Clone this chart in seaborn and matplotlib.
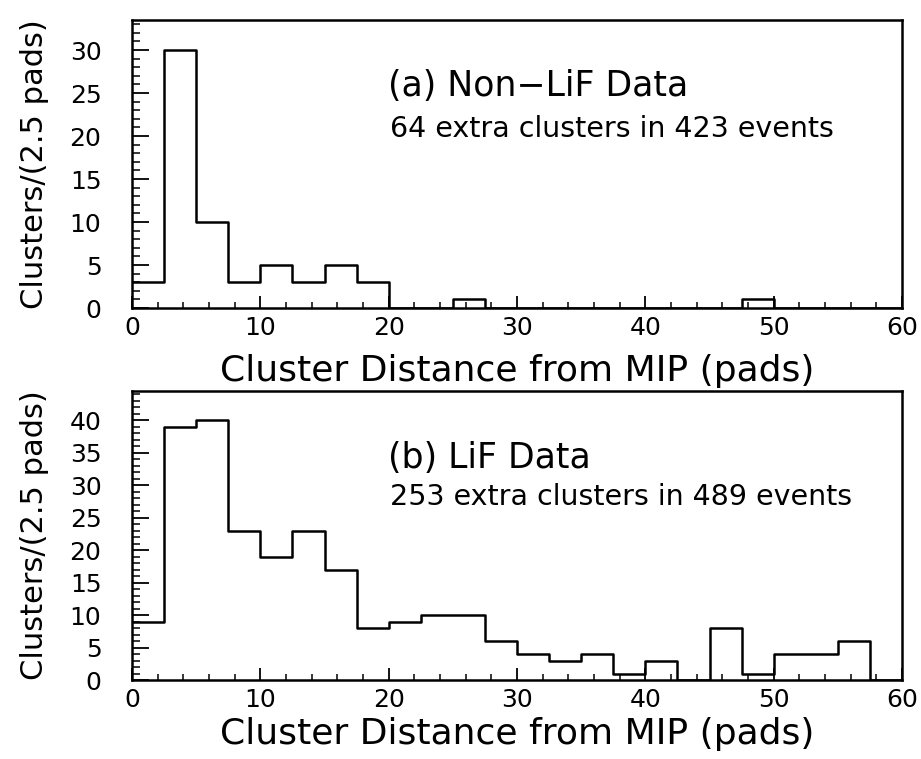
import numpy as np
import pandas as pd
import matplotlib
matplotlib.use("Agg")
import matplotlib.pyplot as plt
import seaborn as sns
from matplotlib.ticker import MultipleLocator

sns.set_theme(style="white")
plt.rcParams['font.family'] = ['DejaVu Sans']

bin_edges = [i * 2.5 for i in range(25)]
bin_centers = [e + 1.25 for e in bin_edges[:-1]]
counts_nonlif = [3, 30, 10, 3, 5, 3, 5, 3, 0, 0, 1, 0, 0, 0, 0, 0, 0, 0, 0, 1, 0, 0, 0, 0]
counts_lif = [9, 39, 40, 23, 19, 23, 17, 8, 9, 10, 10, 6, 4, 3, 4, 1, 3, 0, 8, 1, 4, 4, 6, 0]

title_a = "(a) Non\u2212LiF Data"
sub_a = "64 extra clusters in 423 events"
title_b = "(b) LiF Data"
sub_b = "253 extra clusters in 489 events"
xlabel = "Cluster Distance from MIP (pads)"
ylabel = "Clusters/(2.5 pads)"

fig = plt.figure(figsize=(9.21, 7.59), dpi=100)
W, H = 921, 759
def axrect(l, t, r, b):
    return [l / W, 1 - b / H, (r - l) / W, (b - t) / H]

ax1 = fig.add_axes(axrect(132, 20, 902, 308))
ax2 = fig.add_axes(axrect(132, 391, 902, 680))

panels = [
    (ax1, counts_nonlif, 33.5, title_a, sub_a, 0.771, 0.622, -0.158),
    (ax2, counts_lif, 44.5, title_b, sub_b, 0.768, 0.633, -0.128),
]

for ax, counts, ymax, title, sub, ty, sy, xly in panels:
    df = pd.DataFrame({"x": bin_centers, "w": counts})
    sns.histplot(data=df, x="x", weights="w", bins=bin_edges, element="step",
                 fill=False, color="black", linewidth=1.8, ax=ax)
    ax.set_xlim(0, 60)
    ax.set_ylim(0, ymax)
    ax.xaxis.set_major_locator(MultipleLocator(10))
    ax.xaxis.set_minor_locator(MultipleLocator(2))
    ax.yaxis.set_major_locator(MultipleLocator(5))
    ax.yaxis.set_minor_locator(MultipleLocator(1))
    ax.tick_params(axis="x", which="major", direction="in", length=9, width=1.3,
                   labelsize=18, pad=6, colors="black", bottom=True, top=False)
    ax.tick_params(axis="x", which="minor", direction="in", length=4.5, width=1.3,
                   bottom=True, top=False)
    ax.tick_params(axis="y", which="major", direction="in", length=12, width=1.3,
                   labelsize=18, pad=22, colors="black", left=True, right=False)
    ax.tick_params(axis="y", which="minor", direction="in", length=6, width=1.3,
                   left=True, right=False)
    for s in ax.spines.values():
        s.set_visible(True)
        s.set_color("black")
        s.set_linewidth(1.8)
    ax.set_xlabel(xlabel, fontsize=26, color="black")
    ax.set_ylabel(ylabel, fontsize=22, color="black")
    ax.xaxis.set_label_coords(0.5, xly)
    ax.yaxis.set_label_coords(-0.108, 0.5)
    ax.grid(False)
    ax.text(0.332, ty, title, transform=ax.transAxes, fontsize=25,
            ha="left", va="center", color="black")
    ax.text(0.335, sy, sub, transform=ax.transAxes, fontsize=20.5,
            ha="left", va="center", color="black")

fig.savefig("out.png", dpi=100, facecolor="white")
